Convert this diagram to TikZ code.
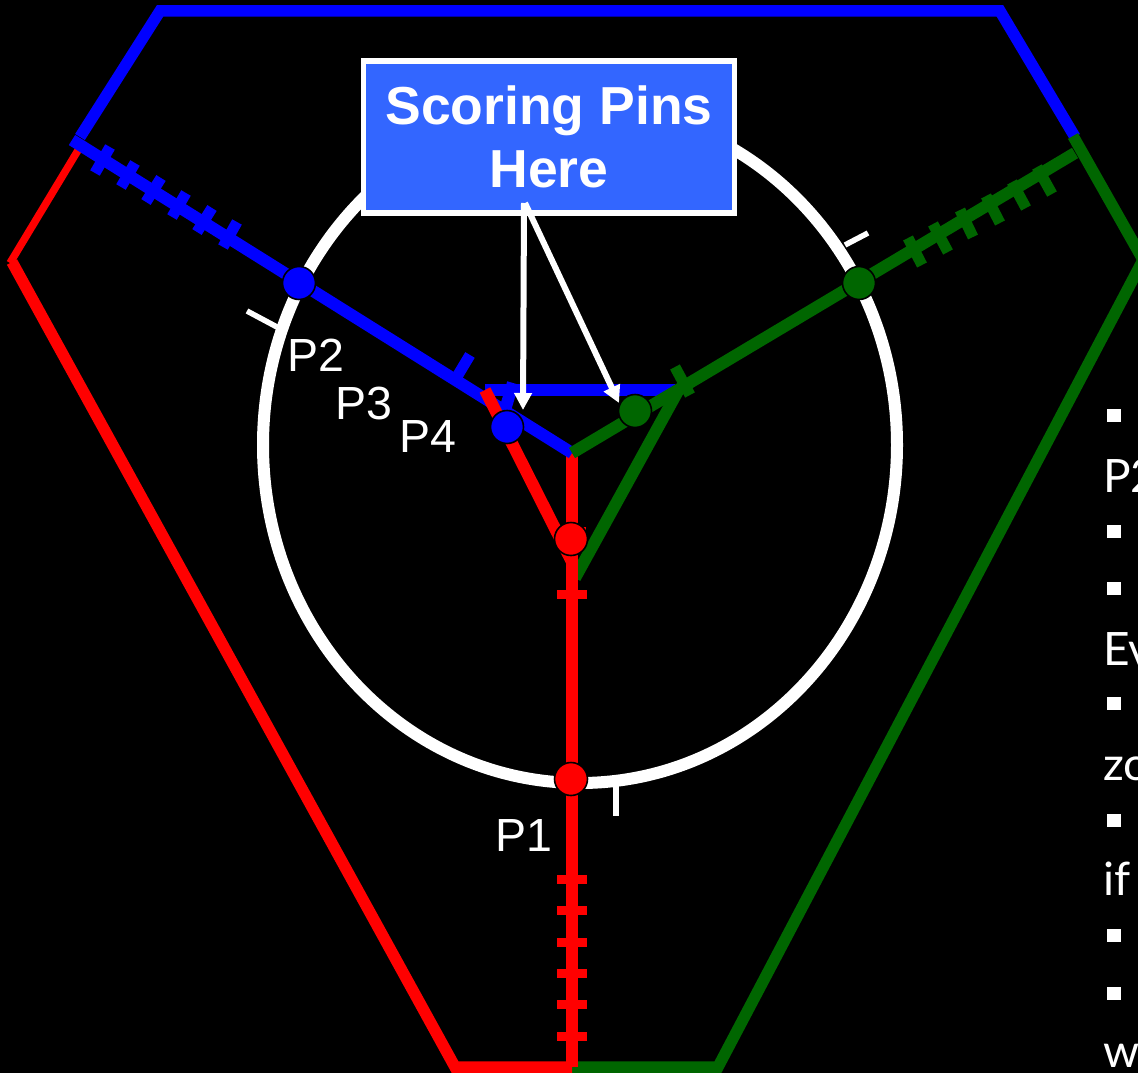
\documentclass[tikz,border=0pt]{standalone}
\usepackage{fontspec}
\setmainfont{Liberation Sans}
\newfontfamily\notefont{Lato}
\definecolor{dgreen}{RGB}{0,102,0}
\definecolor{boxblue}{RGB}{51,102,255}
\definecolor{pblue}{RGB}{0,0,255}
\definecolor{pred}{RGB}{255,0,0}
\tikzset{
  wall/.style={line width=11.5pt,line cap=butt,line join=miter},
  spoke/.style={line width=12pt,line cap=butt},
  tickm/.style={line width=11pt,line cap=butt},
  wtick/.style={white,line width=5.5pt,line cap=butt},
  pin/.style={circle,draw=black,line width=1.6pt,minimum size=33pt,inner sep=0pt},
  plabel/.style={white,anchor=base west,inner sep=0pt,font=\fontsize{46.5}{46}\selectfont},
  note/.style={white,anchor=base west,inner sep=0pt,font=\notefont\fontsize{46}{46}\selectfont},
  bullet/.style={fill=white,draw=none,minimum width=14pt,minimum height=13pt,inner sep=0pt},
  callout/.style={fill=boxblue,draw=white,line width=5.5pt,minimum width=371pt,minimum height=152pt,align=center,text=white,inner sep=0pt,font=\bfseries\fontsize{53.5}{63}\selectfont},
  pointer/.style={white,line width=6pt,-{Triangle[length=17pt,width=17pt]}}
}
\usetikzlibrary{arrows.meta}
\begin{document}
\begin{tikzpicture}[x=1pt,y=-1pt]
\useasboundingbox (0,0) rectangle (1138,1073);
\clip (0,0) rectangle (1138,1073);
\fill[black] (0,0) rectangle (1138,1073);
% junction
\coordinate (J) at (572,453);
% outer hexagon
\draw[wall,pblue] (80,137) -- (160,11) -- (1000,11) -- (1075,137);
\draw[wall,dgreen] (1073,136) -- (1150,272);
\draw[wall,dgreen] (1142,262) -- (718,1067) -- (572,1067);
\draw[wall,pred] (572,1067) -- (455,1067) -- (12,262);
\draw[line width=7.5pt,pred] (10,263) -- (80,147);
% ring
\draw[white,line width=12pt] (580,445) ellipse [x radius=317,y radius=338];
% small white ticks
\draw[wtick] (247,311) -- (277,327);
\draw[wtick] (845,245) -- (868,233);
\draw[wtick] (616,785) -- (616,816);
% branches
\draw[spoke,dgreen] (678,391) -- (575,578);
\draw[spoke,pblue] (485,390) -- (675,390);
\draw[spoke,pblue] (513,383) -- (505,410);
% red spoke
\draw[line width=12.5pt,pred] (572,1067) -- (J);
\foreach \y in {594,879,910,942,973,1004,1036}
  \draw[line width=9pt,pred] (557,\y) -- (587,\y);
\draw[line width=6pt,pred] (575,530) -- (586,530);
% blue spoke
\draw[spoke,pblue] (72,140) -- (J);
\foreach \a/\b/\c/\d in {110/147/95/173,135/163/121/187,161/178/146/202,186/193/172/217,212/208/197/232,237/222/223/247,470/355/455/380}
  \draw[tickm,pblue] (\a,\b) -- (\c,\d);
\draw[line width=12pt,pred] (485,390) -- (572,562);
% green spoke
\draw[spoke,dgreen] (1075,153) -- (J);
\foreach \a/\b/\c/\d in {908/238/922/265,933/224/948/252,960/210/973/237,986/196/1000/223,1012/182/1026/208,1037/167/1052/194,675/367/690/395}
  \draw[tickm,dgreen] (\a,\b) -- (\c,\d);
% pins
\node[pin,fill=pblue] (p2) at (299,283) {};
\node[pin,fill=dgreen] (g2) at (859,283) {};
\node[pin,fill=pblue] (p4) at (507,427) {};
\node[pin,fill=dgreen] (g4) at (635,411) {};
\node[pin,fill=pred] (r4) at (571,539) {};
\node[pin,fill=pred] (p1) at (571,779) {};
% pin labels
\node[plabel] (lp2) at (287,371) {P2};
\node[plabel] (lp3) at (335,419) {P3};
\node[plabel] (lp4) at (399,452) {P4};
\node[plabel] (lp1) at (495,851) {P1};
% callout
\node[callout] (box) at (549,137) {Scoring Pins\\Here};
\coordinate (a1) at (523,410);
\coordinate (a2) at (619,403);
\draw[pointer] (524,203) -- (a1);
\draw[pointer] (525,203) -- (a2);
% right-hand clipped text
\foreach \y/\n in {415/b1,531/b2,588/b3,703/b4,820/b5,935/b6,993/b7}
  \node[bullet] (\n) at (1113.5,\y) {};
\node[note] (t1) at (1103,492) {P2};
\node[note] (t2) at (1103,665) {Ev};
\node[note] (t3) at (1103,780) {zo};
\node[note] (t4) at (1103,895) {if};
\node[note] (t5) at (1103,1067) {w};
\end{tikzpicture}
\end{document}
